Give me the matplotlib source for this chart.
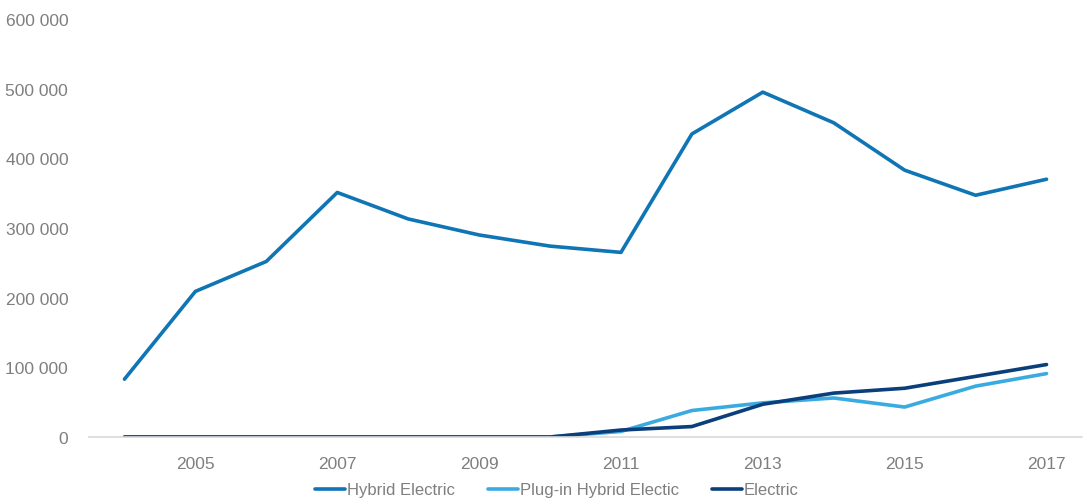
import matplotlib
matplotlib.use("Agg")
import matplotlib.pyplot as plt
from matplotlib.ticker import FuncFormatter

# Annual sales by powertrain
years = [2004, 2005, 2006, 2007, 2008, 2009, 2010, 2011, 2012, 2013, 2014, 2015, 2016, 2017]
hybrid = [83000, 209000, 252000, 351000, 313000, 290000, 274000, 265000, 435000, 495000, 451000, 383000, 347000, 370000]
plugin = [0, 0, 0, 0, 0, 0, 0, 8000, 38000, 49000, 56000, 43000, 73000, 91000]
electric = [0, 0, 0, 0, 0, 0, 0, 10000, 15000, 47000, 63000, 70000, 87000, 104000]

plt.rcParams['font.family'] = ['Liberation Sans', 'DejaVu Sans']
grey = '#7f7f7f'

fig = plt.figure(figsize=(10.84, 5.02), dpi=100)
ax = fig.add_axes([89 / 1084, 1 - 438 / 502, (1082 - 89) / 1084, (438 - 20) / 502])

ax.plot(years, hybrid, color='#0f75b5', lw=2.6, label='Hybrid Electric', solid_capstyle='round')
ax.plot(years, plugin, color='#3aabe1', lw=2.6, label='Plug-in Hybrid Electic', solid_capstyle='round')
ax.plot(years, electric, color='#0b3f7b', lw=2.6, label='Electric', solid_capstyle='round')

ax.set_xlim(2003.5, 2017.5)
ax.set_ylim(0, 600000)
ax.set_yticks(range(0, 600001, 100000))
ax.yaxis.set_major_formatter(FuncFormatter(lambda v, p: f'{int(v):,}'.replace(',', ' ')))
ax.set_xticks(range(2005, 2018, 2))

for s in ['top', 'right', 'left']:
    ax.spines[s].set_visible(False)
ax.spines['bottom'].set_color('#d9d9d9')
ax.spines['bottom'].set_linewidth(1.2)
ax.tick_params(axis='both', length=0, colors=grey, labelsize=12.5)
ax.tick_params(axis='y', pad=15)
ax.tick_params(axis='x', pad=14)

ax.legend(loc='center', bbox_to_anchor=(557 / 1084, 1 - 491 / 502),
          bbox_transform=fig.transFigure, ncol=3, frameon=False,
          fontsize=12, labelcolor=grey, handlelength=1.8, handletextpad=0.1,
          columnspacing=2.0, borderpad=0)

fig.savefig('out.png', dpi=100)
